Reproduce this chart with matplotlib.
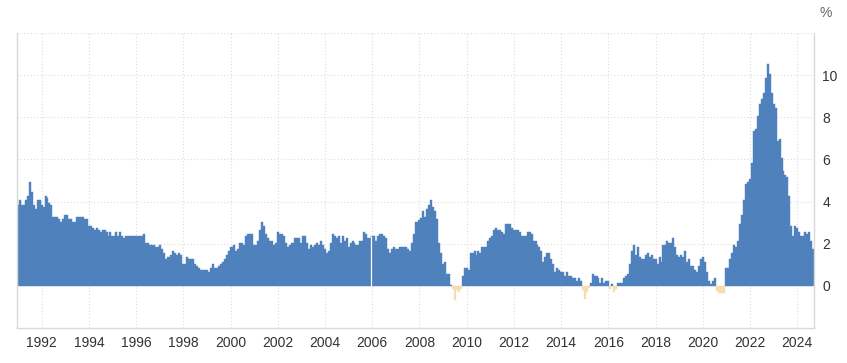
import numpy as np
import matplotlib
matplotlib.use("Agg")
import matplotlib.pyplot as plt

# annual inflation, monthly, Jan 1991 - Sep 2024
infl_1991_1997 = [
    3.84, 4.08, 3.84, 3.84, 4.08, 4.27, 4.93, 4.45, 3.84, 3.65, 4.08, 4.08,
    3.84, 3.74, 4.27, 4.17, 3.93, 3.84, 3.27, 3.27, 3.27, 3.18, 3.03, 3.18,
    3.36, 3.36, 3.18, 3.18, 3.03, 3.03, 3.27, 3.27, 3.27, 3.27, 3.18, 3.18,
    2.84, 2.84, 2.75, 2.65, 2.75, 2.65, 2.56, 2.65, 2.65, 2.56, 2.37, 2.56,
    2.37, 2.37, 2.56, 2.37, 2.56, 2.37, 2.27, 2.37, 2.37, 2.37, 2.37, 2.37,
    2.37, 2.37, 2.37, 2.37, 2.46, 2.04, 2.04, 1.94, 1.94, 1.94, 1.85, 1.85,
    1.94, 1.75, 1.56, 1.28, 1.37, 1.37, 1.47, 1.66, 1.56, 1.47, 1.56, 1.47,
]
infl_1998_2004 = [
    1.04, 1.04, 1.37, 1.28, 1.28, 1.28, 1.04, 0.95, 0.85, 0.76, 0.76, 0.76,
    0.76, 0.66, 0.85, 1.04, 0.85, 0.85, 0.95, 1.04, 1.14, 1.28, 1.47, 1.66,
    1.85, 1.85, 1.94, 1.66, 1.75, 2.04, 2.04, 1.94, 2.37, 2.46, 2.46, 2.46,
    1.94, 1.94, 2.13, 2.65, 3.03, 2.84, 2.46, 2.27, 2.13, 2.13, 1.94, 2.04,
    2.56, 2.46, 2.46, 2.37, 2.04, 1.85, 1.94, 2.04, 2.04, 2.27, 2.27, 2.27,
    2.04, 2.37, 2.37, 2.04, 1.75, 1.94, 1.85, 1.94, 2.04, 1.94, 2.13, 1.94,
    1.75, 1.56, 1.66, 2.04, 2.46, 2.37, 2.27, 2.37, 2.04, 2.37, 2.13, 2.27,
]
infl_2005_2011 = [
    1.85, 2.04, 2.13, 2.04, 1.94, 1.94, 2.13, 2.13, 2.56, 2.46, 2.27, 2.27,
    2.37, 2.37, 2.13, 2.37, 2.46, 2.46, 2.37, 2.27, 1.75, 1.56, 1.75, 1.85,
    1.75, 1.75, 1.85, 1.85, 1.85, 1.85, 1.75, 1.66, 2.04, 2.46, 3.03, 3.03,
    3.13, 3.22, 3.55, 3.27, 3.65, 3.84, 4.08, 3.74, 3.55, 3.18, 2.04, 1.56,
    1.04, 1.14, 0.57, 0.57, 0.05, -0.15, -0.65, -0.2, -0.3, -0.15, 0.47, 0.85,
    0.85, 0.76, 1.56, 1.56, 1.66, 1.47, 1.66, 1.56, 1.85, 1.85, 1.85, 2.13,
    2.27, 2.37, 2.65, 2.75, 2.65, 2.65, 2.56, 2.46, 2.94, 2.94, 2.94, 2.75,
]
infl_2012_2018 = [
    2.65, 2.65, 2.65, 2.56, 2.37, 2.37, 2.37, 2.56, 2.56, 2.46, 2.13, 2.13,
    1.94, 1.85, 1.66, 1.14, 1.37, 1.56, 1.56, 1.28, 1.04, 0.66, 0.85, 0.76,
    0.66, 0.66, 0.47, 0.66, 0.47, 0.47, 0.38, 0.38, 0.24, 0.38, 0.24, -0.2,
    -0.6, -0.3, -0.1, 0.14, 0.57, 0.47, 0.47, 0.38, 0.14, 0.38, 0.14, 0.24,
    0.24, -0.15, 0.1, -0.3, -0.15, 0.14, 0.14, 0.14, 0.38, 0.47, 0.57, 1.04,
    1.66, 1.94, 1.47, 1.85, 1.37, 1.28, 1.28, 1.47, 1.56, 1.37, 1.47, 1.28,
    1.28, 1.04, 1.37, 1.14, 1.94, 1.94, 2.13, 2.04, 2.04, 2.27, 1.85, 1.47,
]
infl_2019_2024 = [
    1.37, 1.47, 1.37, 1.66, 1.14, 1.28, 0.95, 0.95, 0.76, 0.66, 0.95, 1.28,
    1.37, 1.14, 0.66, 0.24, 0.1, 0.24, 0.38, -0.24, -0.33, -0.33, -0.33, -0.33,
    0.85, 0.85, 1.28, 1.56, 1.94, 1.85, 2.13, 2.94, 3.36, 4.08, 4.83, 4.93,
    5.07, 5.83, 7.35, 7.44, 8.06, 8.63, 8.86, 9.15, 9.86, 10.52, 10.05, 9.15,
    8.63, 8.44, 6.87, 6.97, 6.07, 5.45, 5.26, 5.17, 4.27, 2.84, 2.37, 2.84,
    2.75, 2.56, 2.37, 2.37, 2.56, 2.46, 2.56, 2.13, 1.75,
]
year_ticks = list(range(1992, 2025, 2))
y_ticks = [0, 2, 4, 6, 8, 10]

values = np.array(infl_1991_1997 + infl_1998_2004 + infl_2005_2011
                  + infl_2012_2018 + infl_2019_2024)
dates = 1991 + np.arange(len(values)) / 12

pos_color = "#4f81bd"
neg_color = "#f6dcae"
colors = [pos_color if v >= 0 else neg_color for v in values]

plt.rcParams["font.family"] = ["Liberation Sans", "DejaVu Sans"]

fig = plt.figure(figsize=(8.47, 3.63), dpi=100)
ax = fig.add_axes([17 / 847, 1 - 328 / 363, (814 - 17) / 847, (328 - 33) / 363])

ax.bar(dates, values, width=1 / 12, color=colors, edgecolor=colors,
       linewidth=0.3, zorder=2)

# thin white seam in the bars at the start of 2006
i06 = (2006 - 1991) * 12
ax.vlines(2006 - 1 / 24, 0, max(values[i06 - 1], values[i06]),
          color="white", linewidth=0.9, zorder=3)

ax.set_xlim(dates[0] - 1 / 24, dates[-1] + 1 / 24)
ax.set_ylim(-2, 12)

ax.set_xticks(year_ticks)
ax.set_xticklabels([str(y) for y in year_ticks])
ax.set_yticks(y_ticks)
ax.set_yticklabels([str(y) for y in y_ticks])
ax.yaxis.tick_right()
ax.tick_params(axis="both", length=0, labelsize=10, labelcolor="#333333")
ax.tick_params(axis="x", pad=6)
ax.tick_params(axis="y", pad=6)

for y in [2, 4, 6, 8, 10, 12]:
    ax.axhline(y, color="#dcdcdc", linestyle=(0, (1, 2)), linewidth=0.8, zorder=1)
for x in year_ticks:
    ax.axvline(x, color="#dcdcdc", linestyle=(0, (1, 2)), linewidth=0.8, zorder=1)

ax.spines["top"].set_visible(False)
for side in ["left", "right", "bottom"]:
    ax.spines[side].set_color("#d9d9d9")
    ax.spines[side].set_linewidth(1)

fig.text(826 / 847, 1 - 13 / 363, "%", ha="center", va="center",
         fontsize=10, color="#666666")

fig.savefig("out.png", dpi=100)
